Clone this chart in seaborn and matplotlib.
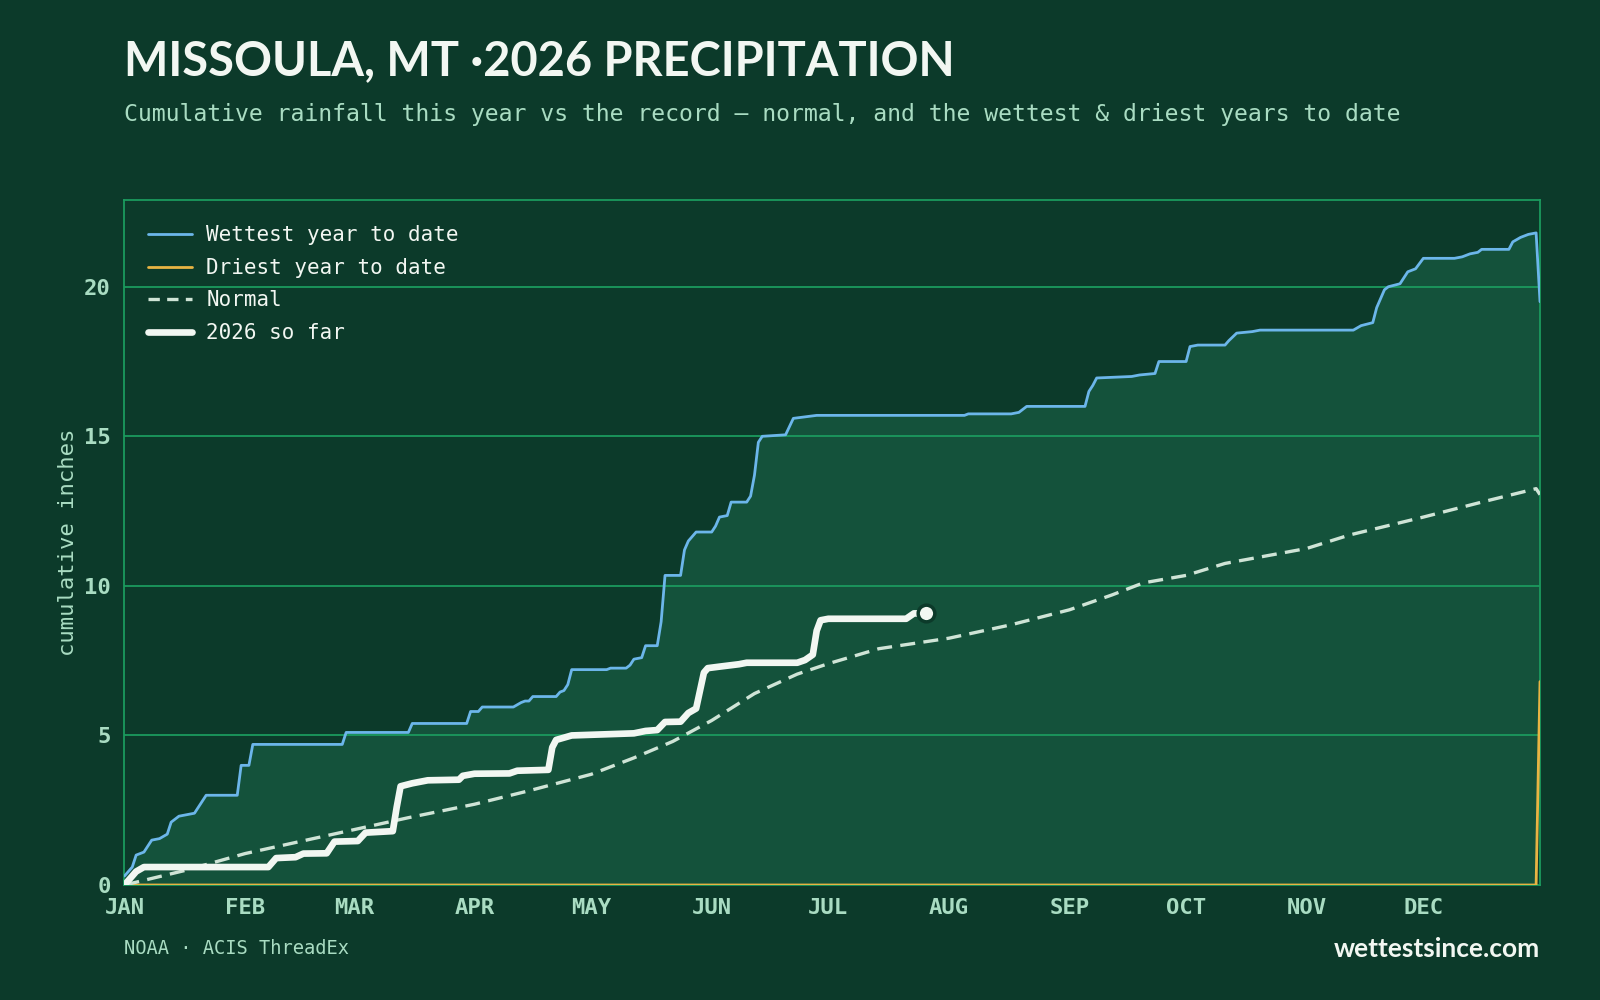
import numpy as np
import pandas as pd
import matplotlib.pyplot as plt
import seaborn as sns

# colours
BG = '#0c3a2a'
FILL = '#14523b'
GRID = '#1b9a5e'
MINT = '#a9dcc2'
WHITE = '#f2f7f2'
BLUE = '#6cb6ea'
GOLD = '#e8b443'
NORMAL = '#cfe4d6'

# ---- data: day index (0 = Jan 1) and cumulative inches ----
wet_day = [0, 2, 3, 5, 7, 9, 11, 12, 13, 14, 18, 20, 21, 29, 30, 32, 33, 56, 57, 73, 74,
           88, 89, 91, 92, 100, 102, 103, 104, 105, 111, 112, 113, 114, 115, 124, 125,
           129, 130, 131, 133, 134, 137, 138, 139, 143, 144, 145, 147, 151, 152, 153,
           155, 156, 160, 161, 162, 163, 164, 170, 172, 175, 178, 216, 217, 228, 230,
           232, 247, 248, 249, 250, 259, 261, 265, 266, 273, 274, 276, 283, 284, 286,
           290, 292, 316, 318, 321, 322, 324, 325, 328, 330, 332, 334, 342, 344, 346,
           348, 349, 356, 357, 359, 361, 363, 364]
wet_in = [0.3, 0.6, 1.0, 1.1, 1.5, 1.55, 1.7, 2.1, 2.2, 2.3, 2.4, 2.8, 3.0, 3.0, 4.0, 4.0,
          4.7, 4.7, 5.1, 5.1, 5.4, 5.4, 5.8, 5.8, 5.95, 5.95, 6.1, 6.15, 6.15, 6.3, 6.3,
          6.45, 6.5, 6.7, 7.2, 7.2, 7.25, 7.25, 7.35, 7.55, 7.6, 8.0, 8.0, 8.8, 10.35,
          10.35, 11.2, 11.5, 11.8, 11.8, 12.0, 12.3, 12.35, 12.8, 12.8, 13.0, 13.7, 14.8,
          15.0, 15.05, 15.6, 15.65, 15.7, 15.7, 15.75, 15.75, 15.8, 16.0, 16.0, 16.5,
          16.7, 16.95, 17.0, 17.05, 17.1, 17.5, 17.5, 18.0, 18.05, 18.05, 18.2, 18.45,
          18.5, 18.55, 18.55, 18.7, 18.8, 19.3, 19.9, 20.0, 20.1, 20.5, 20.6, 20.95,
          20.95, 21.0, 21.1, 21.15, 21.25, 21.25, 21.5, 21.65, 21.75, 21.8, 19.5]

dry_day = [0, 363, 364]
dry_in = [0.0, 0.0, 6.8]

norm_day = [0, 16, 31, 45, 59, 73, 90, 104, 120, 131, 141, 151, 162, 173, 181, 194, 212,
            228, 243, 254, 262, 273, 283, 304, 315, 334, 349, 363, 364]
norm_in = [0.0, 0.5, 1.05, 1.45, 1.85, 2.25, 2.7, 3.15, 3.7, 4.25, 4.8, 5.5, 6.4, 7.05,
           7.4, 7.9, 8.25, 8.7, 9.2, 9.7, 10.1, 10.35, 10.75, 11.25, 11.7, 12.3, 12.8,
           13.25, 13.05]

cur_day = [0, 1, 3, 5, 37, 39, 44, 46, 52, 54, 60, 62, 69, 70, 71, 74, 78, 86, 87, 90,
           99, 101, 109, 110, 111, 115, 131, 134, 137, 139, 143, 145, 147, 149, 150, 153,
           158, 160, 173, 175, 177, 178, 179, 181, 201, 203, 206]
cur_in = [0.0, 0.15, 0.45, 0.6, 0.6, 0.9, 0.93, 1.05, 1.06, 1.45, 1.47, 1.75, 1.8, 2.6,
          3.3, 3.4, 3.5, 3.52, 3.65, 3.72, 3.73, 3.82, 3.85, 4.6, 4.85, 5.0, 5.07, 5.15,
          5.18, 5.45, 5.46, 5.75, 5.9, 7.1, 7.25, 7.3, 7.38, 7.43, 7.43, 7.52, 7.7, 8.5,
          8.85, 8.9, 8.9, 9.08, 9.08]

month_pos = [0, 31, 59, 90, 120, 151, 181, 212, 243, 273, 304, 334]
month_labels = ['JAN', 'FEB', 'MAR', 'APR', 'MAY', 'JUN', 'JUL', 'AUG', 'SEP', 'OCT', 'NOV', 'DEC']
y_ticks = [0, 5, 10, 15, 20]

sns.set_style("white")
plt.rcParams['font.family'] = 'DejaVu Sans Mono'

fig = plt.figure(figsize=(16, 10), dpi=100, facecolor=BG)
ax = fig.add_axes([0.0778, 0.115, 0.8847, 0.685])
ax.set_facecolor(BG)

# band between wettest and driest
band_x = np.r_[wet_day, dry_day[::-1]]
band_y = np.r_[wet_in, dry_in[::-1]]
ax.fill(band_x, band_y, color=FILL, lw=0, zorder=1)

for y in y_ticks[1:]:
    ax.axhline(y, color=GRID, lw=1.3, zorder=2)

df_wet = pd.DataFrame({'day': wet_day, 'inches': wet_in})
df_dry = pd.DataFrame({'day': dry_day, 'inches': dry_in})
df_norm = pd.DataFrame({'day': norm_day, 'inches': norm_in})
df_cur = pd.DataFrame({'day': cur_day, 'inches': cur_in})

sns.lineplot(data=df_wet, x='day', y='inches', ax=ax, color=BLUE, lw=2,
             estimator=None, sort=False, label='Wettest year to date', zorder=4)
sns.lineplot(data=df_dry, x='day', y='inches', ax=ax, color=GOLD, lw=2,
             estimator=None, sort=False, label='Driest year to date', zorder=4)
sns.lineplot(data=df_norm, x='day', y='inches', ax=ax, color=NORMAL, lw=2.4,
             estimator=None, sort=False, label='Normal', zorder=4, dashes=False)
ax.lines[-1].set_dashes((4.5, 2.5))
sns.lineplot(data=df_cur, x='day', y='inches', ax=ax, color=WHITE, lw=4.8,
             estimator=None, sort=False, label='2026 so far', zorder=5)
ax.plot(cur_day[-1], cur_in[-1], 'o', ms=12, color=WHITE, mec=BG, mew=2.5, zorder=6)

ax.set_xlim(0, 364)
ax.set_ylim(0, 22.9)
ax.set_xticks(month_pos)
ax.set_xticklabels(month_labels)
ax.set_yticks(y_ticks)
ax.tick_params(axis='x', colors='#7fae96', length=5, width=1, pad=4,
               labelcolor=MINT, labelsize=16)
ax.tick_params(axis='y', colors='#7fae96', length=4, width=1, pad=6,
               labelcolor=MINT, labelsize=16)
for lab in ax.get_xticklabels() + ax.get_yticklabels():
    lab.set_fontweight('bold')
ax.set_xlabel('')
ax.set_ylabel('cumulative inches', color=MINT, fontsize=16, labelpad=4)
for s in ax.spines.values():
    s.set_color(GRID)
    s.set_linewidth(1.3)

leg = ax.legend(loc='upper left', bbox_to_anchor=(0.0166, 0.963), frameon=False,
                fontsize=15, labelcolor=WHITE, handlelength=2.1, handletextpad=0.7,
                labelspacing=0.6, borderaxespad=0, borderpad=0)
for h in leg.get_lines():
    if h.get_label() == 'Normal':
        h.set_dashes((3.4, 2.2))

fig.text(0.0775, 0.925, 'MISSOULA, MT \u00b72026 PRECIPITATION', color=WHITE,
         fontsize=33.8, fontweight='bold', family='Lato', va='baseline')
fig.text(0.0775, 0.879, 'Cumulative rainfall this year vs the record \u2014 normal, '
         'and the wettest & driest years to date', color=MINT, fontsize=16.65,
         va='baseline')
fig.text(0.0775, 0.046, 'NOAA \u00b7 ACIS ThreadEx', color=MINT, fontsize=13.5,
         va='baseline')
fig.text(0.9625, 0.043, 'wettestsince.com', color=WHITE, fontsize=19,
         fontweight='bold', family='Lato', ha='right', va='baseline')

fig.savefig('out.png', dpi=100, facecolor=BG)
